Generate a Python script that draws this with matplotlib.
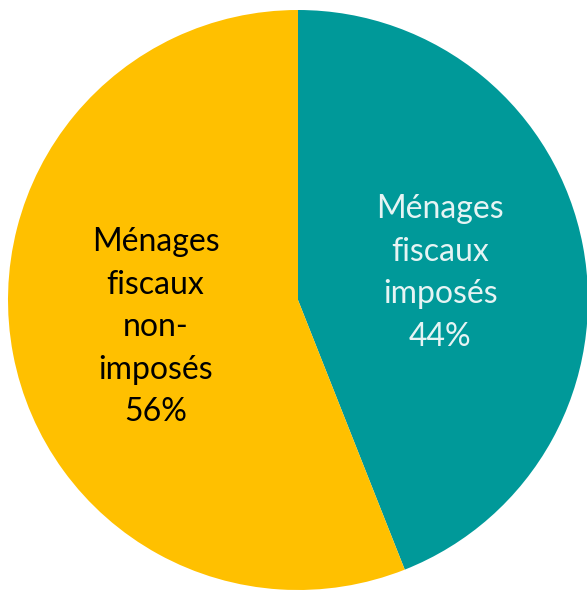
import matplotlib
matplotlib.use("Agg")
import matplotlib.pyplot as plt

labels = ["Ménages\nfiscaux\nimposés\n44%", "Ménages\nfiscaux\nnon-\nimposés\n56%"]
values = [44, 56]
colors = ["#009999", "#FFC000"]
text_colors = ["#E6F4F4", "#000000"]

W, H = 587, 591
fig = plt.figure(figsize=(W/100, H/100), dpi=100)
ax = fig.add_axes([0, 0, 1, 1])
cx, cy, r = 298, 300, 290
wedges, texts = ax.pie(values, colors=colors, startangle=90, counterclock=False,
                       labels=labels, labeldistance=0.5, radius=1,
                       wedgeprops=dict(linewidth=0))
for t, c in zip(texts, text_colors):
    t.set_ha("center"); t.set_va("center"); t.set_multialignment("center")
    t.set_color(c); t.set_fontsize(23); t.set_family("Lato"); t.set_linespacing(1.52)
ax.set_xlim((0-cx)/r, (W-cx)/r)
ax.set_ylim((cy-H)/r, (cy-0)/r)
ax.set_aspect("equal")
ax.axis("off")
fig.savefig("out.png", dpi=100)
